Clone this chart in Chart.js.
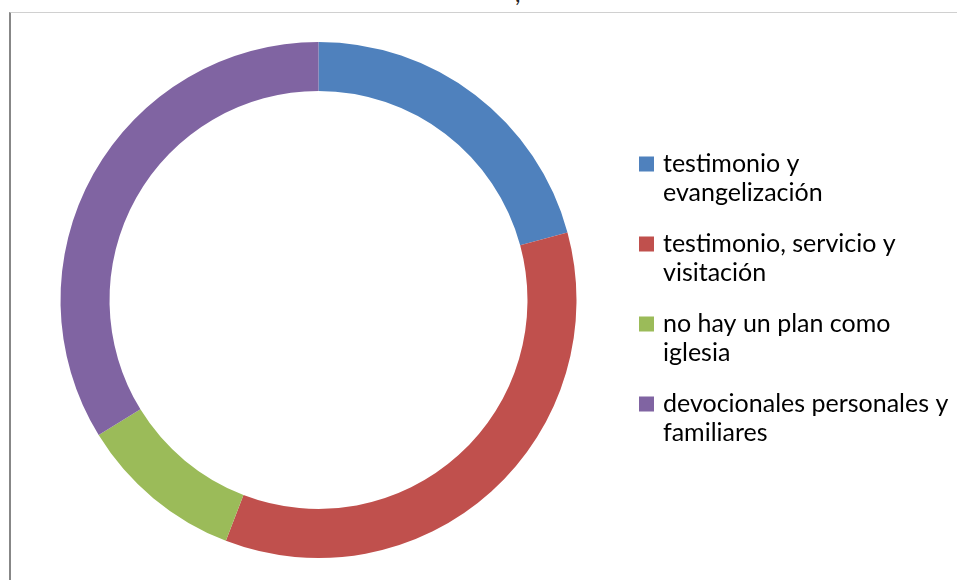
<!DOCTYPE html>
<html>
<head>
<meta charset="utf-8">
<script src="https://cdn.jsdelivr.net/npm/chart.js@4"></script>
<style>
  html, body { margin: 0; padding: 0; background: #fff; }
  #wrap { position: relative; width: 957px; height: 580px; overflow: hidden; }
  #frame {
    position: absolute; left: 9px; top: 12px; right: 0; bottom: 0;
    border-left: 2px solid #878787; border-top: 1px solid #d0d0d0;
  }
  #titleBit {
    position: absolute; left: 515px; top: -19px;
    font: 24px Lato, sans-serif; line-height: 24px; color: #222;
  }
  canvas { position: absolute; left: 0; top: 0; }
</style>
</head>
<body>
<div id="wrap">
  <div id="frame"></div>
  <span id="titleBit">,</span>
  <canvas id="chart" width="957" height="580"></canvas>
</div>
<script>
// categorias (cada una en dos renglones, como en la leyenda)
const categories = [
    ['testimonio y', 'evangelización'],
    ['testimonio, servicio y', 'visitación'],
    ['no hay un plan como', 'iglesia'],
    ['devocionales personales y', 'familiares']
];
// valores
const values = [16, 27, 8, 26];

const sliceColors = ['#4f81bd', '#c0504d', '#9bbb59', '#8064a2'];

/**
 * Leyenda a la derecha, dibujada en el canvas
 */
const sideLegend = {
    id: 'sideLegend',
    afterDraw(chart) {
        const ctx = chart.ctx;
        const colors = chart.data.datasets[0].backgroundColor;
        const boxX = 639, box = 15, textX = 663;
        const firstY = 164, lineH = 28.5, step = 80;

        ctx.save();
        ctx.font = '25px Lato, sans-serif';
        ctx.textBaseline = 'middle';
        ctx.fillStyle = '#000';
        chart.data.labels.forEach(function(lines, i) {
            const y = firstY + i * step;
            ctx.fillStyle = colors[i];
            ctx.fillRect(boxX, y - box / 2, box, box);
            ctx.fillStyle = '#000';
            lines.forEach(function(line, j) {
                ctx.fillText(line, textX, y + j * lineH);
            });
        });
        ctx.restore();
    }
};

new Chart(document.getElementById('chart'), {
    type: 'doughnut',
    data: {
        labels: categories,
        datasets: [{
            data: values,
            backgroundColor: sliceColors,
            borderWidth: 0
        }]
    },
    options: {
        responsive: false,
        animation: false,
        devicePixelRatio: 1,
        cutout: '81%',
        layout: {
            padding: { left: 60, right: 380, top: 42, bottom: 22 }
        },
        plugins: {
            legend: { display: false },
            tooltip: { enabled: true }
        }
    },
    plugins: [sideLegend]
});
</script>
</body>
</html>
